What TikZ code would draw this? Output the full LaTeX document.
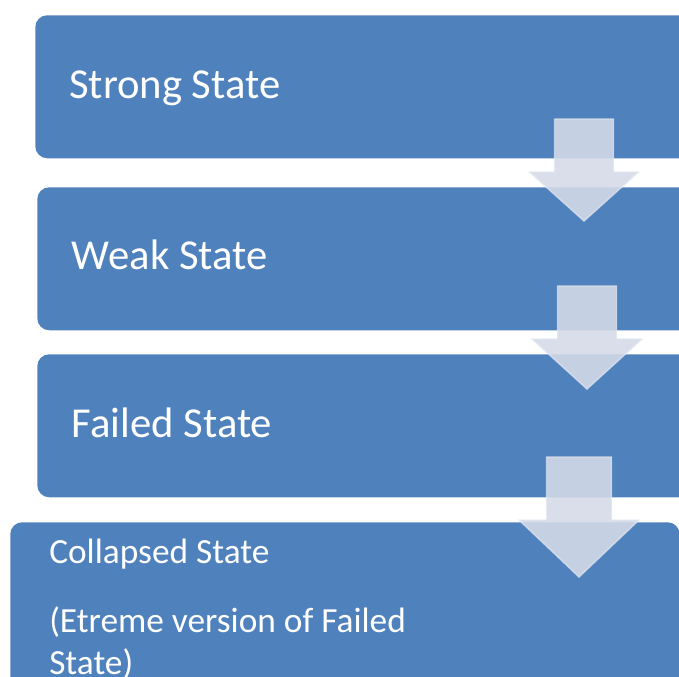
\documentclass[tikz,border=0pt]{standalone}
\usepackage{fontspec}
\setmainfont{Carlito}
\usetikzlibrary{positioning}
\definecolor{stateblue}{RGB}{79,129,189}
\definecolor{arrowfill}{RGB}{212,218,231}
\definecolor{arrowline}{RGB}{226,231,241}

\begin{document}
\begin{tikzpicture}[
  x=0.75pt, y=-0.75pt,
  statebox/.style={fill=stateblue, rounded corners=9pt, inner sep=0pt, anchor=north west},
  statetext/.style={text=white, font=\fontsize{32}{38}\selectfont, inner sep=0pt},
  smalltext/.style={text=white, font=\fontsize{26.5}{31.5}\selectfont, inner sep=0pt, anchor=base west},
  flowarrow/.style={fill=arrowfill, fill opacity=0.89, draw=arrowline, draw opacity=0.7, line width=1.1pt, line join=miter}
]
  \useasboundingbox (0,0) rectangle (679,677);
  \begin{scope}
    \clip (0,0) rectangle (679,677);

    % state boxes
    \node[statebox, minimum width=495pt, minimum height=107.25pt] (strong) at (35,15) {};
    \node[statebox, minimum width=495pt, minimum height=107.25pt] (weak) at (37,187) {};
    \node[statebox, minimum width=495pt, minimum height=107.25pt] (failed) at (37,354) {};
    \node[statebox, minimum width=502pt, minimum height=140pt] (collapsed) at (10,522) {};

    % labels
    \node[statetext, right=25.5pt of strong.west, anchor=base west, yshift=-8.6pt] (strongtext) {Strong State};
    \node[statetext, right=26pt of weak.west, anchor=base west, yshift=-8.2pt] (weaktext) {Weak State};
    \node[statetext, right=26pt of failed.west, anchor=base west, yshift=-8.6pt] (failedtext) {Failed State};
    \node[smalltext] (collapsedtext) at (49,563) {Collapsed State};
    \node[smalltext] (notetext) at (49,632) {(Etreme version of Failed};
    \node[smalltext] (notetext2) at (49,674) {State)};

    % down arrows between the boxes
    \foreach \cx/\ty/\by/\tip/\sw/\hw in {584/119/172/221/29.5/54.5,
                                          587/286/339/389/29.5/55,
                                          579/457/520/577/32.5/60}
      \draw[flowarrow] (\cx-\sw,\ty) -- (\cx+\sw,\ty) -- (\cx+\sw,\by)
        -- (\cx+\hw,\by) -- (\cx,\tip) -- (\cx-\hw,\by) -- (\cx-\sw,\by) -- cycle;
  \end{scope}
\end{tikzpicture}
\end{document}
